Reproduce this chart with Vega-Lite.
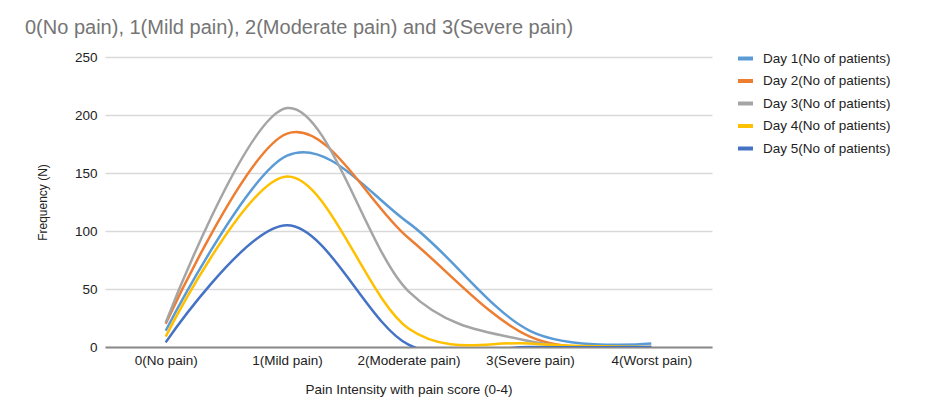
{
  "$schema": "https://vega.github.io/schema/vega-lite/v6.json",
  "autosize": {"type": "none"},
  "padding": {"left": 105, "top": 57, "right": 228, "bottom": 70},
  "width": 607,
  "height": 290,
  "title": {
    "text": "0(No pain), 1(Mild pain), 2(Moderate pain) and 3(Severe pain)",
    "font": "Liberation Sans",
    "fontSize": 20,
    "fontWeight": "normal",
    "color": "#757575",
    "anchor": "start",
    "frame": "group",
    "dx": -80,
    "offset": 11
  },
  "data": {
    "values": [
      {"score": "0(No pain)", "day": "Day 1(No of patients)", "n": 14},
      {"score": "1(Mild pain)", "day": "Day 1(No of patients)", "n": 165},
      {"score": "2(Moderate pain)", "day": "Day 1(No of patients)", "n": 107},
      {"score": "3(Severe pain)", "day": "Day 1(No of patients)", "n": 14},
      {"score": "4(Worst pain)", "day": "Day 1(No of patients)", "n": 3},
      {"score": "0(No pain)", "day": "Day 2(No of patients)", "n": 20},
      {"score": "1(Mild pain)", "day": "Day 2(No of patients)", "n": 184},
      {"score": "2(Moderate pain)", "day": "Day 2(No of patients)", "n": 94},
      {"score": "3(Severe pain)", "day": "Day 2(No of patients)", "n": 9},
      {"score": "4(Worst pain)", "day": "Day 2(No of patients)", "n": 0},
      {"score": "0(No pain)", "day": "Day 3(No of patients)", "n": 21},
      {"score": "1(Mild pain)", "day": "Day 3(No of patients)", "n": 206},
      {"score": "2(Moderate pain)", "day": "Day 3(No of patients)", "n": 48},
      {"score": "3(Severe pain)", "day": "Day 3(No of patients)", "n": 5},
      {"score": "4(Worst pain)", "day": "Day 3(No of patients)", "n": 0},
      {"score": "0(No pain)", "day": "Day 4(No of patients)", "n": 9},
      {"score": "1(Mild pain)", "day": "Day 4(No of patients)", "n": 147},
      {"score": "2(Moderate pain)", "day": "Day 4(No of patients)", "n": 16},
      {"score": "3(Severe pain)", "day": "Day 4(No of patients)", "n": 3},
      {"score": "4(Worst pain)", "day": "Day 4(No of patients)", "n": 0},
      {"score": "0(No pain)", "day": "Day 5(No of patients)", "n": 4},
      {"score": "1(Mild pain)", "day": "Day 5(No of patients)", "n": 105},
      {"score": "2(Moderate pain)", "day": "Day 5(No of patients)", "n": 2},
      {"score": "3(Severe pain)", "day": "Day 5(No of patients)", "n": 0},
      {"score": "4(Worst pain)", "day": "Day 5(No of patients)", "n": 0}
    ]
  },
  "mark": {"type": "line", "interpolate": "cardinal", "strokeWidth": 2.5, "clip": true},
  "encoding": {
    "x": {
      "field": "score",
      "type": "ordinal",
      "scale": {"type": "point", "padding": 0.5},
      "axis": {
        "title": "Pain Intensity with pain score (0-4)",
        "labelAngle": 0,
        "ticks": false,
        "grid": false,
        "domainColor": "#8a8a8a",
        "domainWidth": 2,
        "labelPadding": 6,
        "titlePadding": 16
      }
    },
    "y": {
      "field": "n",
      "type": "quantitative",
      "scale": {"domain": [0, 250]},
      "axis": {
        "title": "Frequency (N)",
        "titleFontSize": 12,
        "values": [0, 50, 100, 150, 200, 250],
        "domain": false,
        "ticks": false,
        "labelPadding": 8,
        "titlePadding": 25
      }
    },
    "color": {
      "field": "day",
      "type": "nominal",
      "scale": {"range": ["#5B9BD5", "#ED7D31", "#A5A5A5", "#FFC000", "#4472C4"]},
      "legend": {
        "title": null,
        "orient": "none",
        "legendX": 631,
        "legendY": -8,
        "symbolType": "stroke",
        "symbolSize": 225,
        "symbolStrokeWidth": 4,
        "labelOffset": 8,
        "rowPadding": 4.5
      }
    }
  },
  "config": {
    "font": "Liberation Sans",
    "view": {"stroke": null},
    "axis": {
      "labelFont": "Liberation Sans",
      "labelFontSize": 13.5,
      "labelColor": "#222222",
      "titleFont": "Liberation Sans",
      "titleFontSize": 13.5,
      "titleFontWeight": "normal",
      "titleColor": "#222222",
      "gridColor": "#d9d9d9",
      "gridWidth": 1.5
    },
    "legend": {
      "labelFont": "Liberation Sans",
      "labelFontSize": 13.5,
      "labelColor": "#222222",
      "labelLimit": 300
    }
  }
}
